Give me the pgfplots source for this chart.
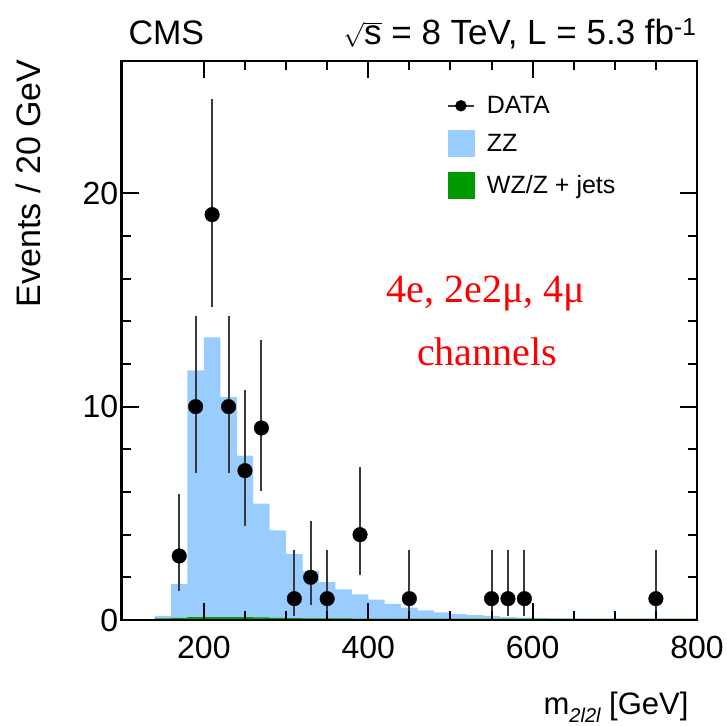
\documentclass[border=0pt]{standalone}
\usepackage{fontspec}
\setmainfont{Liberation Sans}
\newfontfamily\timesfont{Liberation Serif}
\usepackage{pgfplots}
\pgfplotsset{compat=1.18}
\usepackage{pgfplotstable}
\definecolor{zzblue}{HTML}{99CCFF}
\definecolor{wzgreen}{HTML}{009900}
\definecolor{errgray}{HTML}{3A3A3A}

\pgfplotstableread{
x y ep em
170 3 2.92 1.63
190 10 4.27 3.11
210 19 5.43 4.32
230 10 4.27 3.11
250 7 3.77 2.58
270 9 4.11 2.94
310 1 2.30 0.83
330 2 2.64 1.29
350 1 2.30 0.83
390 4 3.16 1.91
450 1 2.30 0.83
550 1 2.30 0.83
570 1 2.30 0.83
590 1 2.30 0.83
750 1 2.30 0.83
}\datatable

\begin{document}
\begin{tikzpicture}[x=1pt,y=1pt]
\path[use as bounding box] (0,0) rectangle (726,726);
\begin{axis}[
  at={(121.7pt,106pt)}, anchor=south west,
  scale only axis, width=575.3pt, height=559pt,
  xmin=100, xmax=800, ymin=0, ymax=26.2,
  xtick={200,400,600,800}, minor x tick num=3,
  ytick={0,10,20}, minor y tick num=4,
  axis line style={line width=2.5pt},
  major tick length=17pt, minor tick length=9pt,
  every tick/.append style={black, line width=2pt},
  tick label style={font=\fontsize{32}{38}\selectfont},
  xticklabel style={yshift=-13pt},
  /pgf/number format/assume math mode=true,
  axis on top,
  legend cell align=left,
  legend style={draw=none, fill=none, at={(rel axis cs:0.565,0.937)}, anchor=north west,
    font=\fontsize{25}{30}\selectfont, row sep=15pt, column sep=12pt, inner sep=0pt,
    nodes={inner sep=0pt}},
]
\addlegendimage{legend image code/.code={\draw[errgray, line width=2pt] (0pt,0pt) -- (26pt,0pt); \fill[black] (13pt,0pt) circle (5.5pt);}}
\addlegendentry{DATA}

\addplot[fill=zzblue, draw=none, const plot,
  legend image code/.code={\fill[zzblue] (0pt,-13.5pt) rectangle (27pt,13.5pt);}]
  coordinates {(140,0.19) (160,1.69) (180,11.7) (200,13.25) (220,10.45) (240,7.7) (260,5.45)
  (280,4.2) (300,3.1) (320,2.3) (340,1.77) (360,1.43) (380,1.2) (400,0.95) (420,0.75)
  (440,0.58) (460,0.45) (480,0.36) (500,0.28) (520,0.23) (540,0.19) (560,0.14) (580,0.11)
  (600,0.09) (620,0.07) (640,0.05) (660,0.03) (680,0.02) (700,0.02) (720,0.01) (740,0.01)
  (760,0.01) (780,0.01) (800,0.01)} \closedcycle;
\addlegendentry{ZZ}

\addplot[fill=wzgreen, draw=none, const plot,
  legend image code/.code={\fill[wzgreen] (0pt,-13.5pt) rectangle (27pt,13.5pt);}]
  coordinates {(140,0.08) (160,0.1) (180,0.14) (200,0.14) (220,0.14) (240,0.13) (260,0.12)
  (280,0.1) (300,0.09) (320,0.08) (340,0.08) (360,0.08) (380,0.07) (400,0.07) (420,0.07)
  (440,0.07) (460,0.07) (480,0.07) (500,0.07) (520,0.07) (540,0.07) (560,0.07) (580,0.07)
  (600,0.07) (620,0.07) (640,0.07) (660,0.07) (680,0.07) (700,0.07) (720,0.07) (740,0.07)
  (760,0.07) (780,0.07) (800,0.07)} \closedcycle;
\addlegendentry{WZ/Z + jets}

\addplot[only marks, mark=*, mark size=7.3pt, black, forget plot,
  error bars/.cd, y dir=both, y explicit, error mark=none,
  error bar style={errgray, line width=2pt}]
  table[x=x, y=y, y error plus=ep, y error minus=em] {\datatable};
\end{axis}

\node[anchor=base west, font=\fontsize{34}{40}\selectfont] at (125,681) {CMS};
\node[anchor=base east, font=\fontsize{35}{42}\selectfont] at (700,681)
  {$\sqrt{\mbox{s}}$ = 8 TeV, L = 5.3 fb\textsuperscript{-1}};
\node[rotate=90, anchor=base east, font=\fontsize{34}{40}\selectfont] at (40,670) {Events / 20 GeV};
\node[anchor=base east, font=\fontsize{31}{36}\selectfont] at (692,11)
  {m\raisebox{-7pt}{\fontsize{20}{20}\selectfont\itshape 2l2l} [GeV]};
\node[anchor=base, text=red, font=\timesfont\fontsize{40}{48}\selectfont] at (486,423.4) {4e, 2e2μ, 4μ};
\node[anchor=base, text=red, font=\timesfont\fontsize{40}{48}\selectfont] at (487,360.5) {channels};
\end{tikzpicture}
\end{document}
